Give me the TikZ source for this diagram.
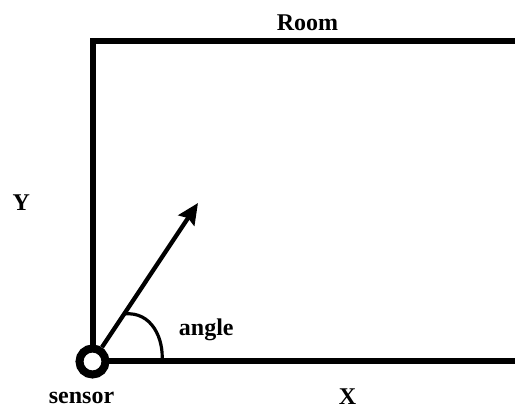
\documentclass[tikz,border=0pt]{standalone}
\usepackage{fontspec}
\setmainfont{Liberation Serif}
\usetikzlibrary{arrows.meta,calc}
\begin{document}
\begin{tikzpicture}[x=1pt,y=-1pt,
  wall/.style={line width=6pt,line join=miter},
  lbl/.style={font=\fontsize{24}{28}\selectfont\bfseries,anchor=base,inner sep=0pt},
  sensorring/.style={circle,draw,line width=8pt,minimum size=26pt,inner sep=0pt,fill=white},
  dirarrow/.style={line width=4.3pt,-{Stealth[length=21pt,width=19pt,inset=3pt]}},
  anglearc/.style={line width=3.2pt}]
\useasboundingbox (0,0) rectangle (515,409);
\draw[wall] (520,41.5) -- (92.5,41.5) -- (92.5,361.5) -- (520,361.5);
\coordinate (tip) at (198,203);
\node[sensorring] (sensor) at (92.5,361.5) {};
\draw[dirarrow] (sensor) -- (tip);
\coordinate (a1) at ($(sensor.center)!0.3!(tip)$);
\coordinate (a2) at (162,361.5);
\draw[anglearc] (a1) .. controls +(28,-3) and +(2,-22) .. (a2);
\node[lbl] (room) at (307.5,31) {Room};
\node[lbl] (ylbl) at (21.3,210.7) {Y};
\node[lbl] (anglelbl) at (206.3,336) {angle};
\node[lbl] (sensorlbl) at (81.5,403.5) {sensor};
\node[lbl] (xlbl) at (347.5,404) {X};
\end{tikzpicture}
\end{document}
